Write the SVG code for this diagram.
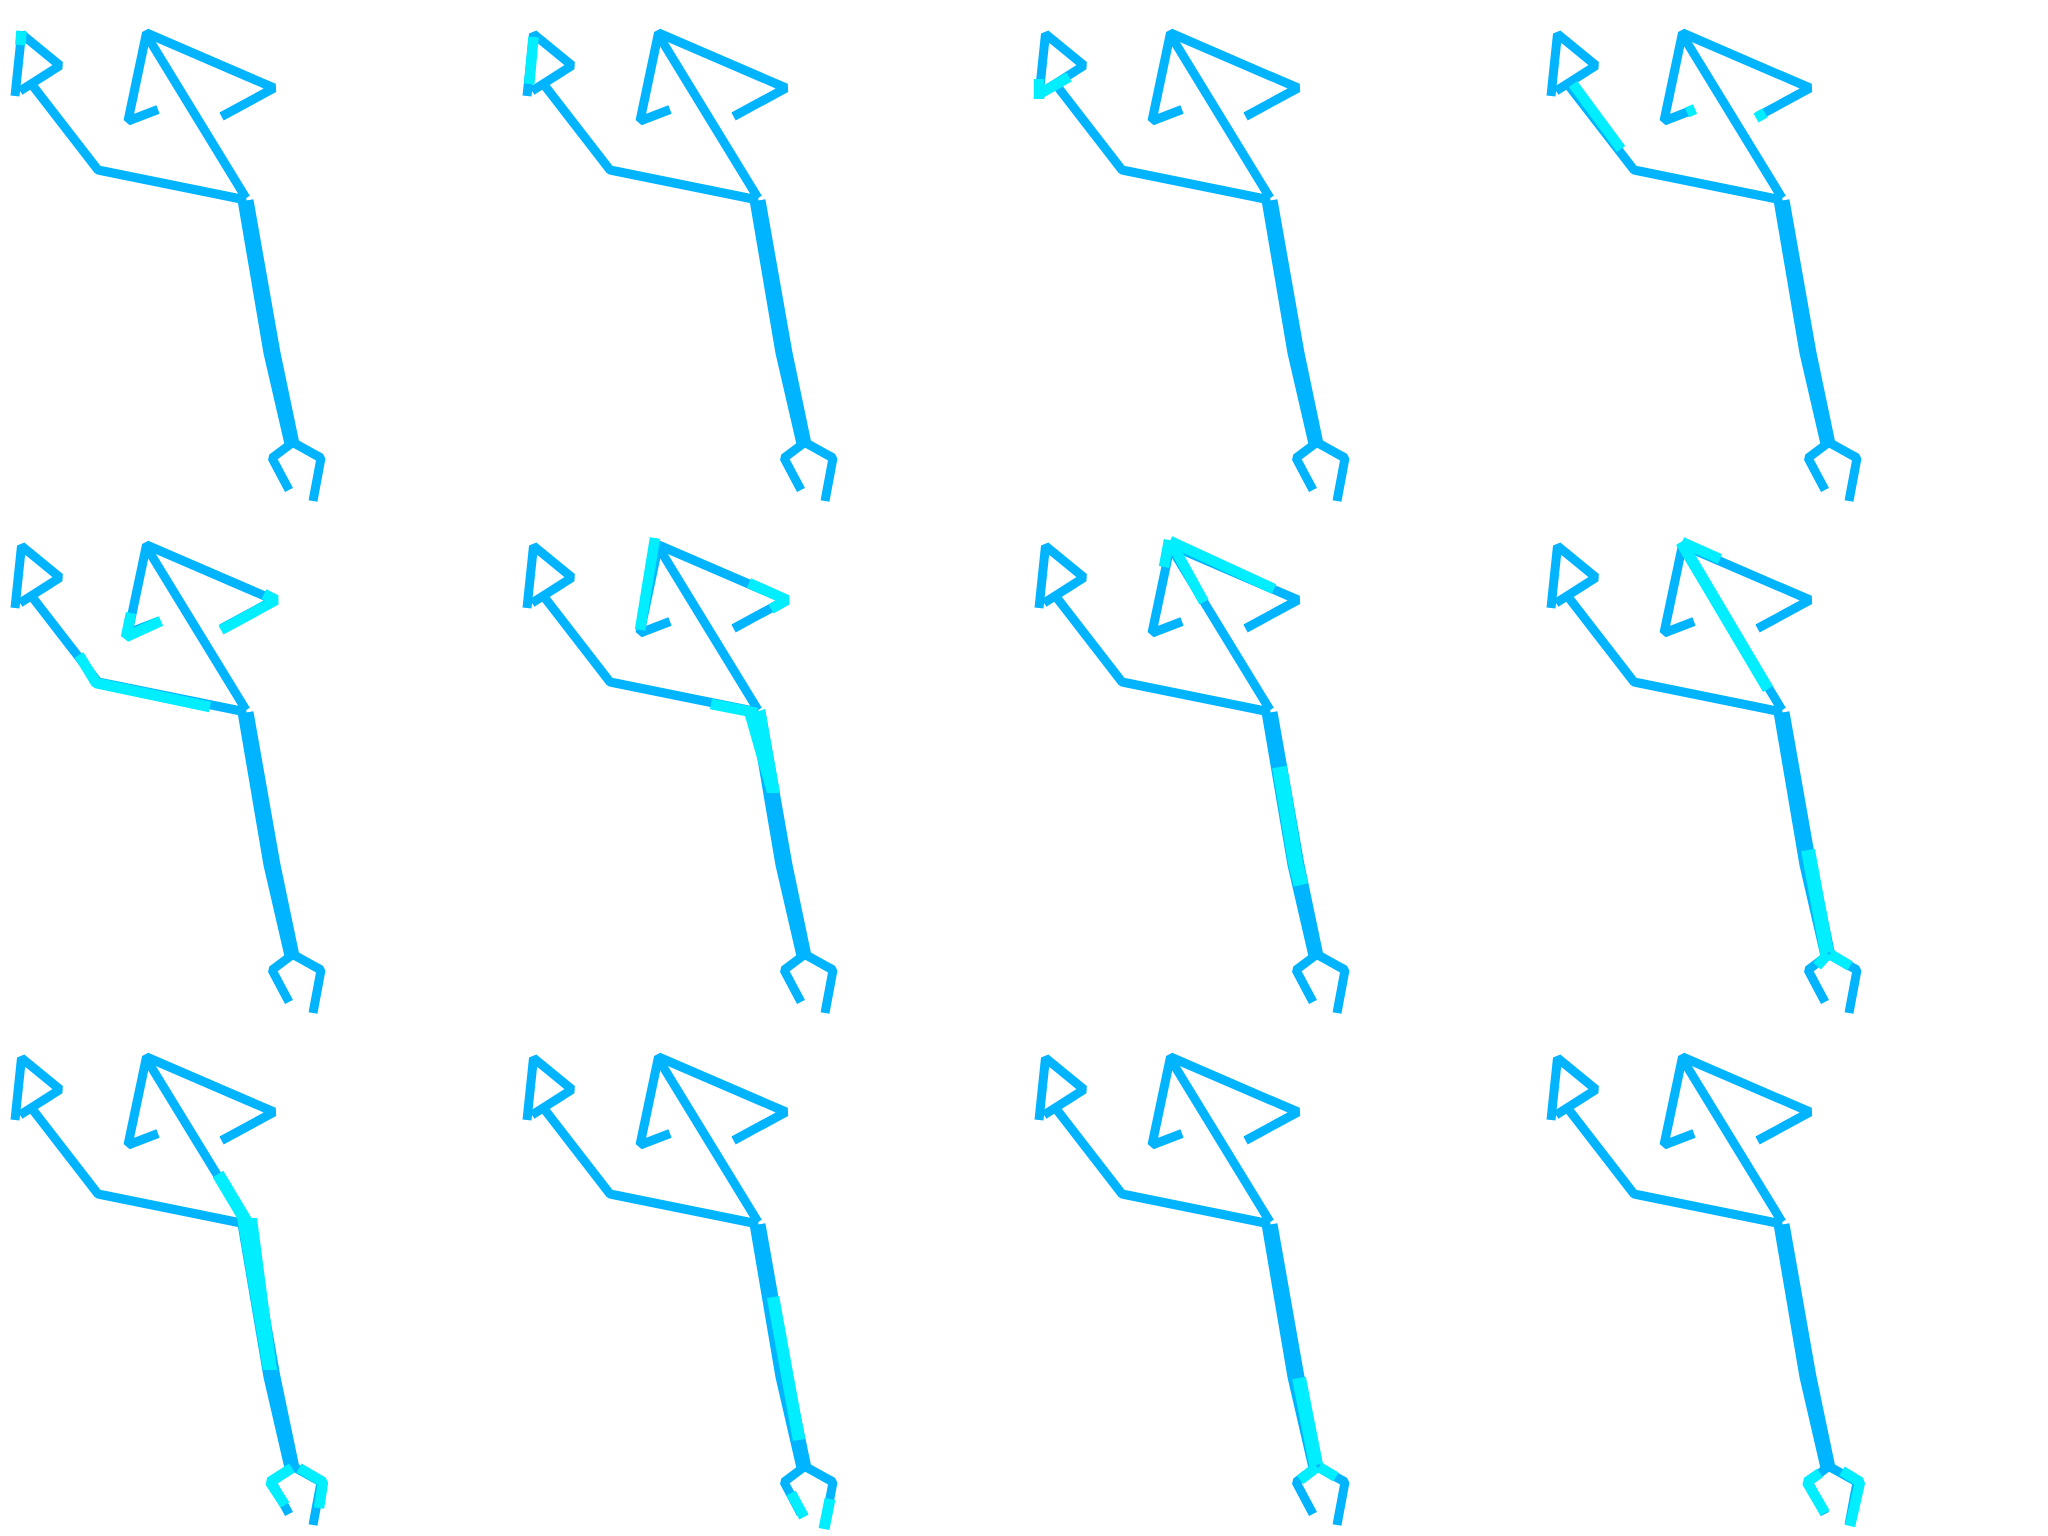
<svg xmlns="http://www.w3.org/2000/svg" xmlns:xlink="http://www.w3.org/1999/xlink" width="2048" height="1536" viewBox="0 0 2048 1536">
<style>
.b{fill:none;stroke:#00B4FF;stroke-width:9;stroke-linejoin:bevel;stroke-linecap:butt}
.c{fill:none;stroke:#00EEFF;stroke-width:10.5;stroke-linejoin:bevel;stroke-linecap:butt}
.cf{fill:#00EEFF;stroke:none}
</style>
<defs>
<g id="sk">
<polyline class="b" points="15,96 21.5,34 60,65.5 20,91"/>
<polyline class="b" points="33,86 98,170 246,200"/>
<line class="b" x1="147" y1="36" x2="246" y2="198"/>
<polyline class="b" points="158,109.5 128,121 146.5,33 274,88 221.5,116.5"/>
<polyline class="b" points="242,200 268,353 289,444"/>
<polyline class="b" points="249,200 276,353 295,444"/>
<polyline class="b" points="292,443 272,458 289,490"/>
<polyline class="b" points="294,443 321,458 313,501"/>
</g>
</defs>
<rect width="2048" height="1536" fill="#FFFFFF"/>

<g id="panel-r1c1" transform="translate(0,0)">
<use xlink:href="#sk" href="#sk"/>
<line class="c" x1="21.5" y1="31" x2="20.3" y2="45"/>
</g>

<g id="panel-r1c2" transform="translate(512,0)">
<use xlink:href="#sk" href="#sk"/>
<line class="c" x1="21.5" y1="37" x2="17.3" y2="84"/>
</g>

<g id="panel-r1c3" transform="translate(1024,0)">
<use xlink:href="#sk" href="#sk"/>
<line class="c" x1="15" y1="79" x2="15" y2="99"/>
<line class="c" x1="45" y1="77" x2="17" y2="93"/>
</g>

<g id="panel-r1c4" transform="translate(1536,0)">
<use xlink:href="#sk" href="#sk"/>
<line class="c" x1="37" y1="84" x2="85" y2="149"/>
<line class="c" x1="151" y1="112.5" x2="159" y2="109"/>
<line class="c" x1="220" y1="118" x2="229" y2="113"/>
</g>

<g id="panel-r2c1" transform="translate(0,512)">
<use xlink:href="#sk" href="#sk"/>
<polyline class="c" points="131,101 126,125 161,109"/>
<polyline class="c" points="264,82 276,88 221,118"/>
<polyline class="c" points="79,143 96,171 210,195"/>
</g>

<g id="panel-r2c2" transform="translate(512,512)">
<use xlink:href="#sk" href="#sk"/>
<line class="c" x1="143" y1="26" x2="128" y2="118"/>
<polyline class="c" points="237,71 275,88 259,97"/>
<line class="c" x1="199" y1="192" x2="245" y2="201"/>
<polygon class="cf" points="233,204 253,197 268,281 255,281"/>
</g>

<g id="panel-r2c3" transform="translate(1024,512)">
<use xlink:href="#sk" href="#sk"/>
<line class="c" x1="145" y1="28" x2="140" y2="55"/>
<line class="c" x1="148" y1="32" x2="180" y2="90"/>
<line class="c" x1="146" y1="29" x2="250" y2="77"/>
<polyline class="c" style="stroke-width:15" points="255.5,255 272,353 277,373"/>
</g>

<g id="panel-r2c4" transform="translate(1536,512)">
<use xlink:href="#sk" href="#sk"/>
<line class="c" style="stroke-width:11.5" x1="145" y1="30" x2="232" y2="177"/>
<line class="c" x1="146" y1="30" x2="184" y2="47"/>
<line class="c" style="stroke-width:14" x1="272" y1="338" x2="291" y2="441"/>
<line class="c" x1="292" y1="442" x2="281" y2="454"/>
<line class="c" x1="294" y1="442" x2="314" y2="454"/>
</g>

<g id="panel-r3c1" transform="translate(0,1024)">
<use xlink:href="#sk" href="#sk"/>
<line class="c" style="stroke-width:12.5" x1="218" y1="150" x2="246" y2="197"/>
<polygon class="cf" points="237,194 257,194 277,346 263,346"/>
<polyline class="c" points="292,444 270,458 285,481"/>
<polyline class="c" points="299,444 323,458 319,484"/>
</g>

<g id="panel-r3c2" transform="translate(512,1024)">
<use xlink:href="#sk" href="#sk"/>
<line class="c" style="stroke-width:12.5" x1="261" y1="273" x2="287" y2="416"/>
<line class="c" x1="279" y1="469" x2="292" y2="493"/>
<line class="c" style="stroke-width:11" x1="318" y1="475" x2="312" y2="505"/>
</g>

<g id="panel-r3c3" transform="translate(1024,1024)">
<use xlink:href="#sk" href="#sk"/>
<line class="c" style="stroke-width:14" x1="275" y1="354" x2="292" y2="441"/>
<line class="c" x1="293" y1="443" x2="276" y2="456"/>
<line class="c" x1="295" y1="443" x2="312" y2="453"/>
</g>

<g id="panel-r3c4" transform="translate(1536,1024)">
<use xlink:href="#sk" href="#sk"/>
<polyline class="c" points="284,449 271,458 289,489"/>
<polyline class="c" points="306,447 324,458 314,502"/>
</g>
</svg>
